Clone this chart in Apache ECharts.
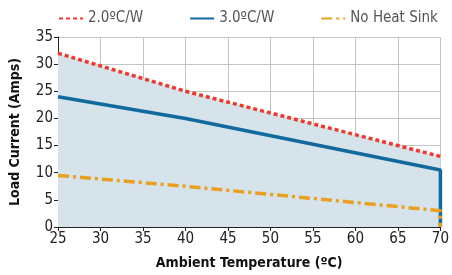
<!DOCTYPE html>
<html>
<head>
<meta charset="utf-8">
<script src="https://cdn.jsdelivr.net/npm/echarts@6/dist/echarts.min.js"></script>
<style>
  html, body { margin: 0; padding: 0; background: #fff; }
  #chart { width: 452px; height: 275px; }
</style>
</head>
<body>
<div id="chart"></div>
<script>
// ambient temperature points (ºC)
var temps = [25, 40, 70, 70];
// load current (Amps) per curve
var heatsink2 = [32, 25, 13];
var heatsink3 = [24, 20, 10.5, 0];
var noHeatSink = [9.5, 7.5, 3, 0];
var names = ['2.0ºC/W', '3.0ºC/W', 'No Heat Sink'];

var font = "'DejaVu Sans Condensed', 'Liberation Sans Narrow', sans-serif";

function pairs(vals) {
  return vals.map(function (v, i) { return [temps[i], v]; });
}

var chart = echarts.init(document.getElementById('chart'));

var option = {
  animation: false,
  textStyle: { fontFamily: font },
  legend: {
    top: 6,
    left: 53,
    width: 420,
    itemGap: 46,
    itemWidth: 24,
    itemHeight: 10,
    itemStyle: { opacity: 0 },
    textStyle: { fontFamily: font, fontSize: 15, color: '#555' },
    data: names
  },
  grid: {
    left: 56,
    right: 8,
    top: 37,
    bottom: 48
  },
  xAxis: {
    type: 'value',
    min: 25,
    max: 70,
    interval: 5,
    name: 'Ambient Temperature (ºC)',
    nameLocation: 'middle',
    nameGap: 29,
    nameTextStyle: { fontFamily: font, fontSize: 14, fontWeight: 'bold', color: '#111' },
    axisLine: { lineStyle: { color: '#222', width: 1 } },
    axisTick: { show: true, length: 4, lineStyle: { color: '#222' } },
    axisLabel: { fontFamily: font, fontSize: 15, color: '#222', margin: 5 },
    splitLine: { show: true, lineStyle: { color: '#c4c4c4', width: 1 } }
  },
  yAxis: {
    type: 'value',
    min: 0,
    max: 35,
    interval: 5,
    name: 'Load Current (Amps)',
    nameLocation: 'middle',
    nameGap: 36,
    nameTextStyle: { fontFamily: font, fontSize: 14, fontWeight: 'bold', color: '#111' },
    axisLine: { show: true, lineStyle: { color: '#222', width: 1 } },
    axisTick: { show: true, length: 4, lineStyle: { color: '#222' } },
    axisLabel: { fontFamily: font, fontSize: 15, color: '#222', margin: 5 },
    splitLine: { show: true, lineStyle: { color: '#c4c4c4', width: 1 } }
  },
  series: [
    {
      name: names[0],
      type: 'line',
      symbol: 'none',
      data: pairs(heatsink2),
      lineStyle: { color: '#ec3a2e', width: 3.5, type: [4, 3], cap: 'butt' },
      itemStyle: { color: '#ec3a2e' },
      areaStyle: { color: '#d6e3ea', opacity: 1, origin: 'start' },
      z: 1
    },
    {
      name: names[1],
      type: 'line',
      symbol: 'none',
      data: pairs(heatsink3),
      lineStyle: { color: '#116a9b', width: 3.5 },
      itemStyle: { color: '#116a9b' },
      z: 2
    },
    {
      name: names[2],
      type: 'line',
      symbol: 'none',
      data: pairs(noHeatSink),
      lineStyle: { color: '#e9a021', width: 3.5, type: [11, 4, 3, 4] },
      itemStyle: { color: '#e9a021' },
      z: 3
    }
  ]
};

chart.setOption(option);
</script>
</body>
</html>
